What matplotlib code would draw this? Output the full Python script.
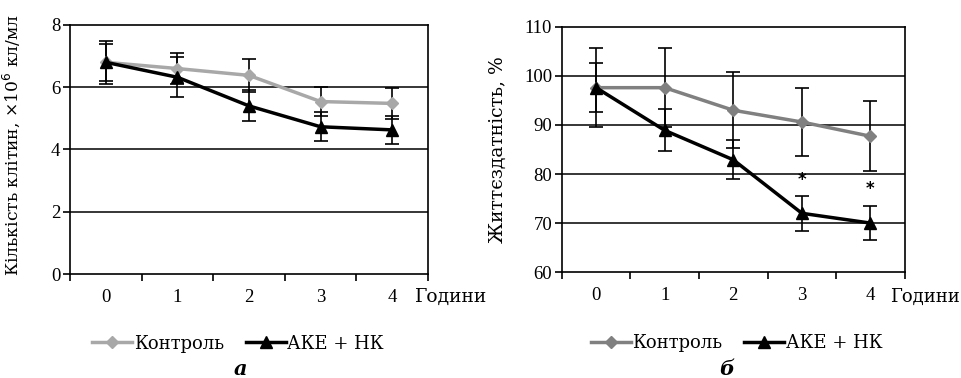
import matplotlib.pyplot as plt
import numpy as np

# data
hours = [0, 1, 2, 3, 4]
hour_labels = ["0", "1", "2", "3", "4"]

# panel a: cell count, x10^6 cells/ml
count_ctrl = [6.80, 6.60, 6.38, 5.54, 5.48]
count_ctrl_err = [0.70, 0.50, 0.52, 0.46, 0.50]
count_ake = [6.80, 6.32, 5.40, 4.73, 4.63]
count_ake_err = [0.60, 0.65, 0.50, 0.47, 0.45]

# panel b: viability, %
viab_ctrl = [97.6, 97.6, 93.0, 90.6, 87.7]
viab_ctrl_err = [8.1, 8.1, 7.7, 7.0, 7.1]
viab_ake = [97.6, 88.9, 82.9, 72.0, 70.0]
viab_ake_err = [5.0, 4.3, 4.0, 3.6, 3.5]
star_hours = [3, 4]
star_y = [78.7, 77.0]

SERIF = ["DejaVu Serif"]
TICKF = ["Liberation Serif"]


def setup_axes(ax, ylim, yticks):
    ax.set_xlim(-0.5, 4.5)
    ax.set_ylim(*ylim)
    ax.set_yticks(yticks)
    ax.set_yticklabels([str(t) for t in yticks], family=TICKF, fontsize=13.5)
    for t in yticks[1:-1]:
        ax.axhline(t, color="black", lw=1.1, zorder=0)
    # category axis: ticks between categories, labels at centres
    ax.set_xticks([-0.5, 0.5, 1.5, 2.5, 3.5, 4.5])
    ax.set_xticklabels([])
    ax.set_xticks(hours, minor=True)
    ax.set_xticklabels(hour_labels, minor=True, family=TICKF, fontsize=13.5)
    ax.tick_params(axis="x", which="major", direction="out", length=5, width=1.2)
    ax.tick_params(axis="x", which="minor", length=0, pad=11)
    ax.tick_params(axis="y", direction="out", length=5, width=1.2, pad=2)
    for s in ax.spines.values():
        s.set_linewidth(1.2)


def draw_series(ax, ctrl, ctrl_err, ake, ake_err, ctrl_color):
    ax.errorbar(hours, ctrl, yerr=ctrl_err, fmt="none", ecolor="black",
                elinewidth=1.2, capsize=5, capthick=1.2, zorder=2)
    ax.errorbar(hours, ake, yerr=ake_err, fmt="none", ecolor="black",
                elinewidth=1.2, capsize=5, capthick=1.2, zorder=2)
    h1, = ax.plot(hours, ctrl, color=ctrl_color, lw=2.5, marker="D",
                  markersize=6, zorder=3, label="Контроль")
    h2, = ax.plot(hours, ake, color="black", lw=2.5, marker="^",
                  markersize=9, zorder=4, label="АКЕ + НК")
    return h1, h2


fig = plt.figure(figsize=(9.62, 3.78), dpi=100)

ax1 = fig.add_axes([0.0728, 0.275, 0.372, 0.659])
setup_axes(ax1, (0, 8), [0, 2, 4, 6, 8])
h1, h2 = draw_series(ax1, count_ctrl, count_ctrl_err, count_ake, count_ake_err, "#a8a8a8")
ax1.set_ylabel("Кількість клітин, ×10$^6$ кл/мл", family=SERIF, fontsize=12.3)
ax1.yaxis.set_label_coords(-0.135, 0.52)
ax1.legend(handles=[h1, h2], loc="center", bbox_to_anchor=(0.47, -0.28), ncol=2,
           frameon=False, prop={"family": SERIF, "size": 13}, handlelength=2.2,
           handletextpad=0.1, columnspacing=1.2)
fig.text(415 / 962, 1 - 297 / 378, "Години", family=SERIF, fontsize=13.5, va="center")
fig.text(240 / 962, 1 - 369 / 378, "а", family=SERIF, fontsize=15,
         style="italic", weight="bold", ha="center", va="center")

ax2 = fig.add_axes([0.584, 0.280, 0.3565, 0.649])
setup_axes(ax2, (60, 110), [60, 70, 80, 90, 100, 110])
h3, h4 = draw_series(ax2, viab_ctrl, viab_ctrl_err, viab_ake, viab_ake_err, "#808080")
for xh, ys in zip(star_hours, star_y):
    ax2.text(xh, ys, "*", ha="center", va="center", fontsize=12, weight="bold")
ax2.set_ylabel("Життєздатність, %", family=SERIF, fontsize=13.5)
ax2.yaxis.set_label_coords(-0.16, 0.5)
ax2.legend(handles=[h3, h4], loc="center", bbox_to_anchor=(0.51, -0.29), ncol=2,
           frameon=False, prop={"family": SERIF, "size": 13}, handlelength=2.2,
           handletextpad=0.1, columnspacing=1.2)
fig.text(890 / 962, 1 - 297 / 378, "Години", family=SERIF, fontsize=13, va="center")
fig.text(727 / 962, 1 - 369 / 378, "б", family=SERIF, fontsize=15,
         style="italic", weight="bold", ha="center", va="center")

fig.savefig("out.png", dpi=100)
